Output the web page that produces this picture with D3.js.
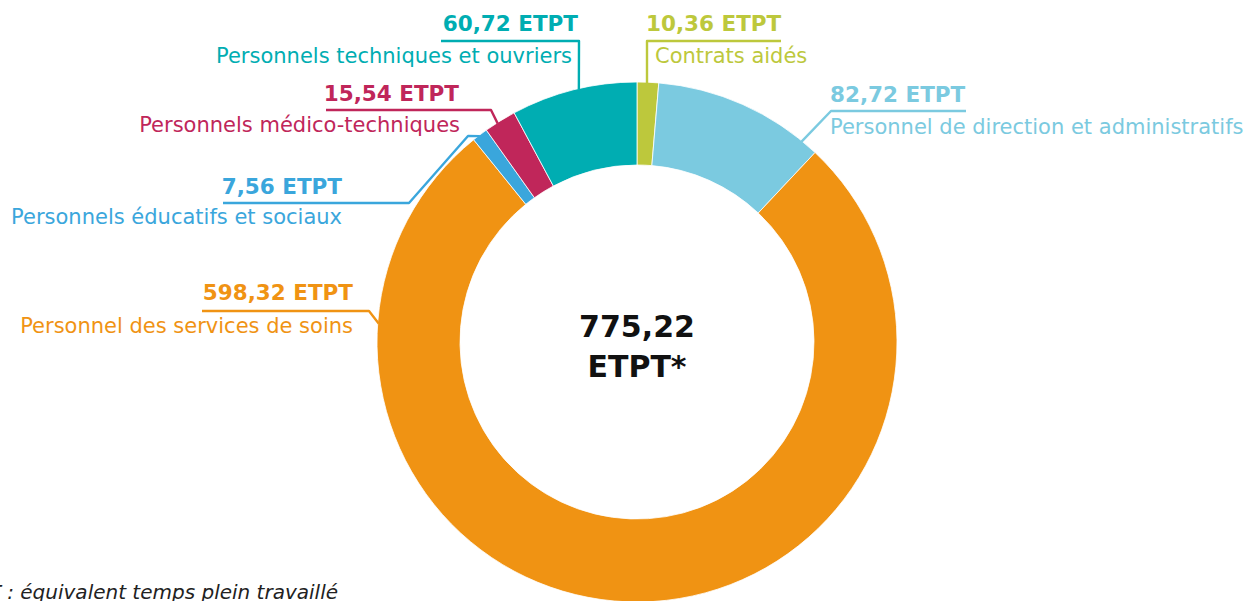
<!DOCTYPE html>
<html>
<head>
<meta charset="utf-8">
<script src="https://cdn.jsdelivr.net/npm/d3@7"></script>
<style>
  body { margin: 0; background: #fff; }
  svg { display: block; font-family: "DejaVu Sans", sans-serif; }
</style>
</head>
<body>
<div id="chart"></div>
<script>
// data (clockwise from 12 o'clock)
const categories = [
    "Contrats aidés",
    "Personnel de direction et administratifs",
    "Personnel des services de soins",
    "Personnels éducatifs et sociaux",
    "Personnels médico-techniques",
    "Personnels techniques et ouvriers"
];
const values = [10.36, 82.72, 598.32, 7.56, 15.54, 60.72];
const valueLabels = ["10,36 ETPT", "82,72 ETPT", "598,32 ETPT", "7,56 ETPT", "15,54 ETPT", "60,72 ETPT"];
const totalLabel = ["775,22", "ETPT*"];
const footnote = "*ETPT : équivalent temps plein travaillé";

const colors = ["#bdc83c", "#7bcae0", "#f09313", "#3aa6dc", "#c0265a", "#00adb2"];

const width = 1257, height = 601;
const cx = 637, cy = 342, outerR = 260, innerR = 177;

// label layout: text anchor, x of value / category, baselines, leader polyline,
// where the leader meets the slice (fraction of the slice)
const labelLayout = [
    {anchor: "start", xv: 646, xl: 655, yv: 31, yl: 63, pts: [[781, 41], [647, 41]], f: 0.46},
    {anchor: "start", xv: 830, xl: 830, yv: 102, yl: 134, pts: [[966, 111], [831, 111]], f: 0.9},
    {anchor: "end", xv: 353, xl: 353, yv: 300, yl: 333, pts: [[202, 311], [369, 311]], f: 0.831},
    {anchor: "end", xv: 342, xl: 342, yv: 194, yl: 224, pts: [[223, 203], [409, 203], [468, 136]], f: 0.45},
    {anchor: "end", xv: 459, xl: 460, yv: 101, yl: 132, pts: [[326, 110], [491, 110]], f: 0.4},
    {anchor: "end", xv: 578, xl: 572, yv: 31, yl: 63, pts: [[441, 41], [579, 41]], f: 0.54}
];

const svg = d3.select("#chart")
    .append("svg")
    .attr("width", width)
    .attr("height", height);

const pie = d3.pie().sort(null).value(d => d);
const arcs = pie(values);

const arc = d3.arc().innerRadius(innerR).outerRadius(outerR);

const g = svg.append("g")
    .attr("transform", `translate(${cx}, ${cy})`);

g.selectAll("path.slice")
    .data(arcs)
    .join("path")
        .attr("class", "slice")
        .attr("d", arc)
        .attr("fill", (d, i) => colors[i])
        .attr("stroke", "#fff")
        .attr("stroke-width", 0.8);

// leader lines
const polar = (a, r) => [cx + r * Math.sin(a), cy - r * Math.cos(a)];

arcs.forEach((d, i) => {
    const L = labelLayout[i];
    const a = d.startAngle + L.f * (d.endAngle - d.startAngle);
    const pts = L.pts.concat([polar(a, outerR - 1)]);
    svg.append("path")
        .attr("d", d3.line()(pts))
        .attr("fill", "none")
        .attr("stroke", colors[i])
        .attr("stroke-width", 2.4)
        .attr("stroke-linejoin", "round");

    svg.append("text")
        .attr("x", L.xv)
        .attr("y", L.yv)
        .attr("text-anchor", L.anchor)
        .attr("fill", colors[i])
        .attr("font-size", 21.5)
        .attr("font-weight", "bold")
        .text(valueLabels[i]);

    svg.append("text")
        .attr("x", L.xl)
        .attr("y", L.yl)
        .attr("text-anchor", L.anchor)
        .attr("fill", colors[i])
        .attr("font-size", 21)
        .text(categories[i]);
});

// total in the middle
svg.append("text")
    .attr("x", cx)
    .attr("y", 337)
    .attr("text-anchor", "middle")
    .attr("font-size", 30)
    .attr("font-weight", "bold")
    .attr("fill", "#111")
    .text(totalLabel[0]);
svg.append("text")
    .attr("x", cx)
    .attr("y", 377)
    .attr("text-anchor", "middle")
    .attr("font-size", 30)
    .attr("font-weight", "bold")
    .attr("fill", "#111")
    .text(totalLabel[1]);

// footnote, cut at the left edge like the source
svg.append("text")
    .attr("x", 338)
    .attr("y", 599)
    .attr("text-anchor", "end")
    .attr("font-size", 20)
    .attr("font-style", "italic")
    .attr("fill", "#222")
    .text(footnote);
</script>
</body>
</html>
